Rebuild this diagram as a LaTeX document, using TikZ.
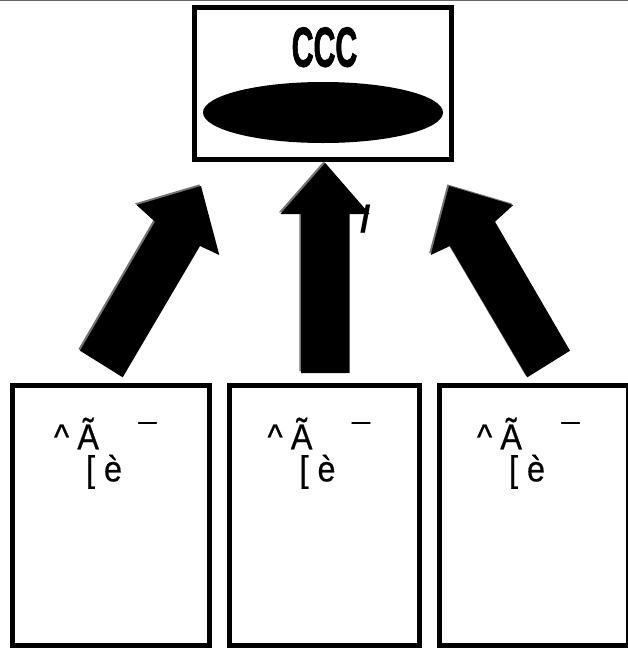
\documentclass[tikz,border=0pt]{standalone}
\usepackage{fontspec}
\setmainfont{Liberation Sans}
\newfontfamily\cccfont{Liberation Sans}[FakeBold=2]
\newfontfamily\labelfont{Liberation Sans}[FakeBold=0.6]
\usetikzlibrary{calc}

\tikzset{
  frame/.style={draw=black, line width=5pt, fill=white, inner sep=0pt},
  blockarrow/.style={fill=black, preaction={fill=black!55, transform canvas={shift={(-1.6pt,1.6pt)}}}},
  boxtext/.style={font=\labelfont\fontsize{36}{36}\selectfont, xscale=0.9, inner sep=0pt, anchor=base west},
}

\begin{document}
\begin{tikzpicture}[x=1pt,y=-1pt]
 \useasboundingbox (0,0) rectangle (628,648);
 \draw[black!60, line width=1.5pt] (0,0.6) -- (628,0.6);

 % top box
 \node[frame, minimum width=257.5pt, minimum height=151.5pt] (top) at (322.75,83.25) {};
 \node[font=\cccfont\bfseries\fontsize{56}{56}\selectfont, xscale=0.54, inner sep=0pt, anchor=base] (ccc) at (324.5,66.5) {CCC};
 \fill[black] (323,112.5) ellipse [x radius=120pt, y radius=30.5pt];

 % left arrow
  \coordinate (LA1) at (80.0, 350.7);
  \coordinate (LA2) at (122.7, 377.3);
  \coordinate (LA3) at (200.0, 246.0);
  \coordinate (LA4) at (219.3, 255.0);
  \coordinate (LA5) at (201.0, 186.0);
  \coordinate (LA6) at (136.7, 205.0);
  \coordinate (LA7) at (155.0, 221.7);
 \fill[blockarrow] (LA1) -- (LA2) -- (LA3) -- (LA4) -- (LA5) -- (LA6) -- (LA7) -- cycle;

 % middle arrow
  \coordinate (MA1) at (301.0, 373.0);
  \coordinate (MA2) at (349.5, 373.0);
  \coordinate (MA3) at (349.5, 214.0);
  \coordinate (MA4) at (369.5, 214.0);
  \coordinate (MA5) at (325.2, 163.0);
  \coordinate (MA6) at (280.5, 214.0);
  \coordinate (MA7) at (301.0, 214.0);
 \fill[blockarrow] (MA1) -- (MA2) -- (MA3) -- (MA4) -- (MA5) -- (MA6) -- (MA7) -- cycle;
 \node[font=\bfseries\fontsize{38}{38}\selectfont, inner sep=0pt] (slash) at (366,219) {/};

 % right arrow
  \coordinate (RA1) at (570.0, 350.7);
  \coordinate (RA2) at (527.3, 377.3);
  \coordinate (RA3) at (450.0, 246.0);
  \coordinate (RA4) at (430.7, 255.0);
  \coordinate (RA5) at (449.0, 186.0);
  \coordinate (RA6) at (513.3, 205.0);
  \coordinate (RA7) at (495.0, 221.7);
 \fill[blockarrow] (RA1) -- (RA2) -- (RA3) -- (RA4) -- (RA5) -- (RA6) -- (RA7) -- cycle;

 % bottom boxes
 \foreach \name/\cx/\w in {boxA/110.85/196.7, boxB/324.35/189.7, boxC/533.85/189.3} {
  \node[frame, minimum width=\w pt, minimum height=259.2pt] (\name) at (\cx,515.4) {};
  \node[boxtext] (\name-one) at ($(\name.north)+(-57,66)$) {\textasciicircum\hspace{9pt}Ã\hspace{44pt}¯};
  \node[boxtext] (\name-two) at ($(\name.north)+(-25,98)$) {[\hspace{10pt}è};
 }
\end{tikzpicture}
\end{document}
